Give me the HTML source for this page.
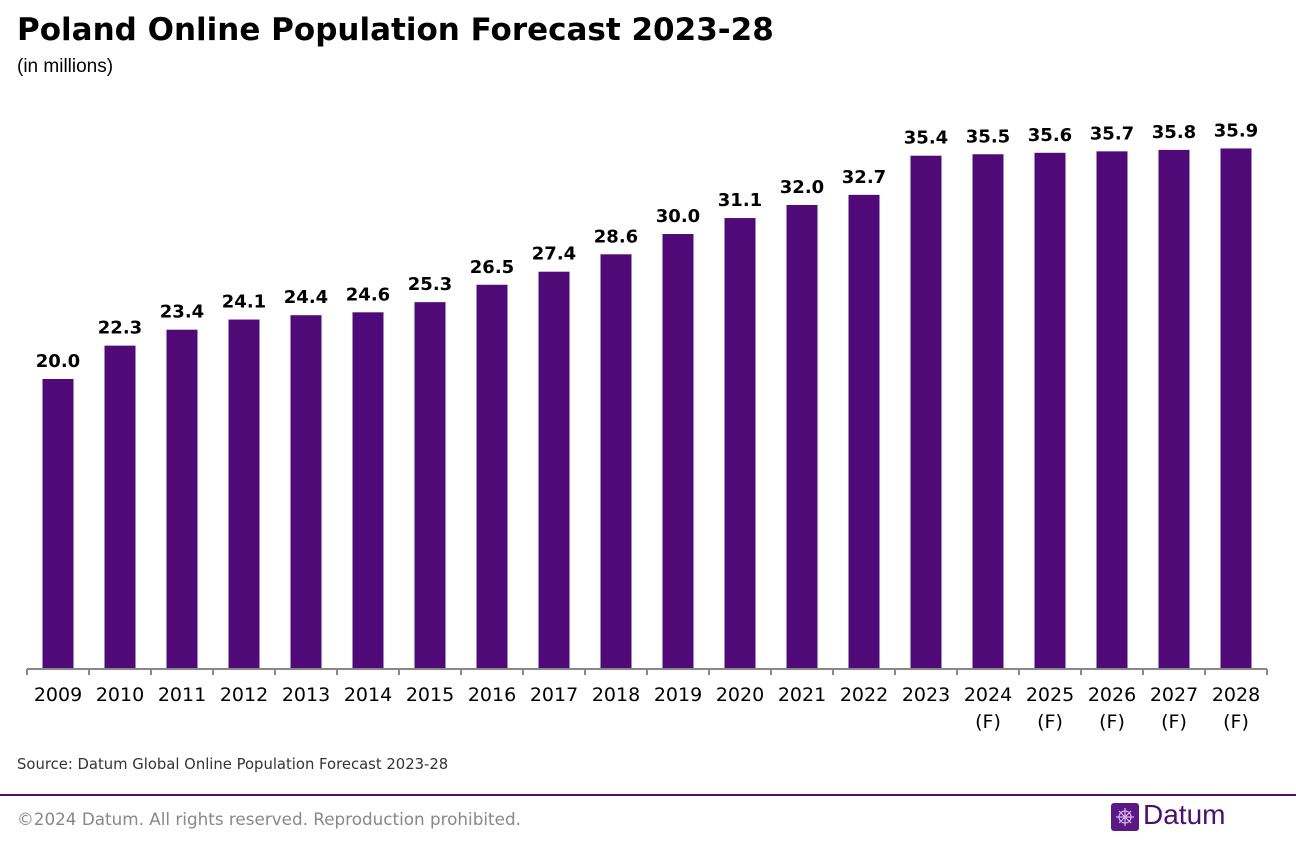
<!DOCTYPE html>
<html><head><meta charset="utf-8"><style>
body{margin:0;width:1296px;height:856px;background:#fff;font-family:"DejaVu Sans","Liberation Sans",sans-serif;overflow:hidden;position:relative}
.t{position:absolute;left:17px;top:12px;font-size:31px;font-weight:bold;color:#000;font-family:"DejaVu Sans",sans-serif;letter-spacing:0}
.s{position:absolute;left:17px;top:56px;font-size:19px;color:#000;font-family:"Liberation Sans",sans-serif}
.src{position:absolute;left:17px;top:756px;font-size:14.8px;color:#333}
.hr{position:absolute;left:0;top:794px;width:1296px;height:2px;background:#4b0f6e}
.cp{position:absolute;left:17px;top:809px;font-size:16.8px;color:#888}
.logo{position:absolute;left:1111px;top:803px;width:28px;height:28px;background:#5a1a86;border-radius:3px}
.lt{position:absolute;left:1143px;top:799px;font-size:28px;color:#4b0f6e;font-family:"Liberation Sans",sans-serif}
</style></head><body>
<div class="t">Poland Online Population Forecast 2023-28</div>
<div class="s">(in millions)</div>
<svg id="c" width="1296" height="760" style="position:absolute;left:0;top:0"></svg>
<div class="src">Source: Datum Global Online Population Forecast 2023-28</div>
<div class="hr"></div>
<div class="cp">©2024 Datum. All rights reserved. Reproduction prohibited.</div>
<div class="logo"><svg width="28" height="28"><g stroke="#d8b8f0" stroke-width="1.2" fill="none"><circle cx="14" cy="14" r="6"/><path d="M14 5v18M5 14h18M8 8l12 12M20 8L8 20"/></g></svg></div>
<div class="lt">Datum</div>
<script>
const categories=["2009","2010","2011","2012","2013","2014","2015","2016","2017","2018","2019","2020","2021","2022","2023","2024","2025","2026","2027","2028"];
const forecast=[0,0,0,0,0,0,0,0,0,0,0,0,0,0,0,1,1,1,1,1];
const values=[20.0,22.3,23.4,24.1,24.4,24.6,25.3,26.5,27.4,28.6,30.0,31.1,32.0,32.7,35.4,35.5,35.6,35.7,35.8,35.9];
const svg=document.getElementById('c');const NS='http://www.w3.org/2000/svg';
const x0=27,band=62,base=669,scale=14.5;
const xs=i=>x0+i*band, ys=v=>base-v*scale;
function mk(t,a){const e=document.createElementNS(NS,t);for(const k in a)e.setAttribute(k,a[k]);svg.appendChild(e);return e;}
categories.forEach((c,i)=>{
 const r=mk('rect',{x:xs(i)+15.5,y:ys(values[i]),width:31,height:values[i]*scale,fill:'#500a78'});
 
 
 const v=mk('text',{x:xs(i)+31,y:ys(values[i])-12,'text-anchor':'middle','font-size':'18','font-weight':'bold','font-family':'DejaVu Sans, sans-serif'});
 v.textContent=values[i].toFixed(1);
 
 
 const l=mk('text',{x:xs(i)+31,y:701,'text-anchor':'middle','font-size':'19','font-family':'DejaVu Sans, sans-serif'});
 l.textContent=c;
 
 
 if(forecast[i]){const f=mk('text',{x:xs(i)+31,y:728,'text-anchor':'middle','font-size':'19','font-family':'DejaVu Sans, sans-serif'});f.textContent='(F)';
 
 }
});
const ax=mk('line',{x1:x0,y1:base,x2:x0+band*categories.length,y2:base,stroke:'#888','stroke-width':2});


for(let i=0;i<=categories.length;i++){mk('line',{x1:xs(i),y1:base,x2:xs(i),y2:base+6,stroke:'#888','stroke-width':2});}
</script>
</body></html>
